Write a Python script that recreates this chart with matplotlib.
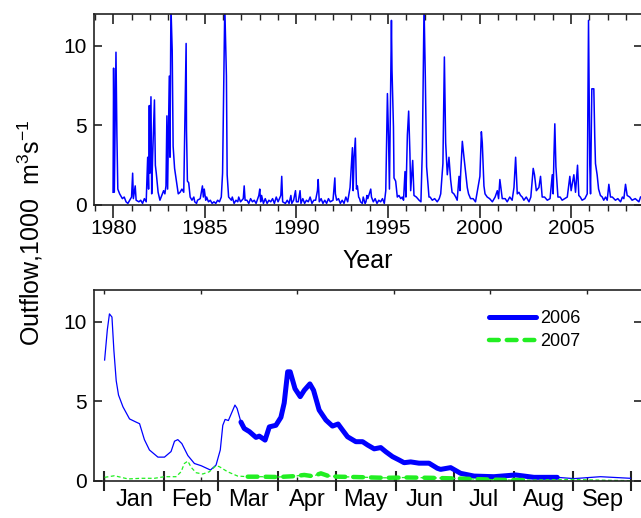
import matplotlib
matplotlib.use("Agg")
import matplotlib.pyplot as plt
import numpy as np

plt.rcParams['font.family'] = ['Liberation Sans', 'DejaVu Sans']
plt.rcParams['mathtext.fontset'] = 'custom'
plt.rcParams['mathtext.rm'] = 'Liberation Sans'
plt.rcParams['mathtext.it'] = 'Liberation Sans:italic'

# ---------------- data: top panel (long record) ----------------
years = [1979.99, 1980.02, 1980.06, 1980.15, 1980.20, 1980.25, 1980.35, 1980.5, 1980.7, 1980.9,
         1981.0, 1981.06, 1981.1, 1981.2, 1981.25, 1981.4, 1981.6, 1981.8, 1981.88, 1981.93,
         1981.97, 1982.0, 1982.06, 1982.1, 1982.15, 1982.25, 1982.3, 1982.35, 1982.45, 1982.55,
         1982.65, 1982.75, 1982.82, 1982.88, 1982.93, 1982.97, 1983.06, 1983.10, 1983.15, 1983.22,
         1983.27, 1983.35, 1983.45, 1983.55, 1983.65, 1983.75, 1983.85, 1983.89, 1983.98, 1984.0,
         1984.05, 1984.12, 1984.2, 1984.3, 1984.45, 1984.6, 1984.75, 1984.87, 1984.92, 1984.97,
         1985.05, 1985.2, 1985.4, 1985.6, 1985.8, 1985.9, 1985.97, 1986.09, 1986.18, 1986.22,
         1986.3, 1986.45, 1986.6, 1986.8, 1986.85, 1986.95, 1987.1, 1987.15, 1987.2, 1987.4,
         1987.6, 1987.8, 1987.95, 1988.0, 1988.05, 1988.1, 1988.2, 1988.4, 1988.6, 1988.8,
         1989.0, 1989.15, 1989.2, 1989.25, 1989.4, 1989.6, 1989.7, 1989.75, 1989.95, 1990.0,
         1990.1, 1990.2, 1990.25, 1990.45, 1990.65, 1990.85, 1991.05, 1991.15, 1991.19, 1991.25,
         1991.45, 1991.65, 1991.85, 1992.0, 1992.1, 1992.13, 1992.2, 1992.4, 1992.6, 1992.8,
         1992.93, 1993.06, 1993.1, 1993.15, 1993.22, 1993.28, 1993.33, 1993.4, 1993.5, 1993.6,
         1993.7, 1993.8, 1993.9, 1994.06, 1994.1, 1994.2, 1994.4, 1994.6, 1994.8, 1994.88,
         1994.97, 1995.03, 1995.08, 1995.19, 1995.22, 1995.3, 1995.33, 1995.42, 1995.51, 1995.7,
         1995.85, 1995.93, 1995.98, 1996.06, 1996.13, 1996.2, 1996.24, 1996.35, 1996.42, 1996.7,
         1996.8, 1996.88, 1996.97, 1997.04, 1997.11, 1997.24, 1997.42, 1997.69, 1997.88, 1998.0,
         1998.08, 1998.15, 1998.24, 1998.33, 1998.42, 1998.6, 1998.78, 1998.88, 1998.93, 1998.97,
         1999.06, 1999.15, 1999.33, 1999.51, 1999.78, 2000.02, 2000.1, 2000.15, 2000.24, 2000.42,
         2000.7, 2000.97, 2001.04, 2001.11, 2001.24, 2001.51, 2001.78, 2001.88, 2001.97, 2002.06,
         2002.24, 2002.42, 2002.7, 2002.8, 2002.93, 2003.0, 2003.1, 2003.24, 2003.33, 2003.42,
         2003.7, 2003.97, 2004.02, 2004.06, 2004.11, 2004.17, 2004.28, 2004.51, 2004.79, 2004.93,
         2005.0, 2005.15, 2005.24, 2005.35, 2005.42, 2005.6, 2005.88, 2005.95, 2006.02, 2006.06,
         2006.13, 2006.24, 2006.29, 2006.33, 2006.42, 2006.6, 2006.78, 2006.97, 2007.06, 2007.15,
         2007.42, 2007.7, 2007.88, 2007.97, 2008.06, 2008.33, 2008.7, 2008.79]
flows = [0.8, 8.6, 0.8, 9.6, 4.4, 1.0, 0.7, 0.4, 0.2, 0.3,
         0.5, 2.0, 0.4, 1.2, 0.3, 0.2, 0.1, 0.2, 3.0, 1.0,
         6.25, 2.0, 6.8, 0.7, 3.0, 6.6, 2.5, 2.0, 0.8, 0.3,
         0.6, 0.9, 0.7, 1.2, 5.6, 1.0, 8.1, 3.0, 12.5, 9.7,
         3.7, 2.3, 1.5, 0.7, 0.8, 1.0, 0.8, 3.6, 10.15, 4.7,
         1.5, 1.4, 0.5, 0.3, 0.2, 0.3, 0.4, 1.2, 0.5, 1.0,
         0.3, 0.2, 0.1, 0.1, 0.2, 0.5, 2.0, 12.5, 8.1, 1.9,
         0.5, 0.3, 0.1, 0.2, 0.5, 0.2, 0.4, 1.2, 0.3, 0.1,
         0.2, 0.1, 0.6, 1.0, 0.2, 0.6, 0.1, 0.1, 0.2, 0.1,
         0.2, 0.6, 1.8, 0.2, 0.1, 0.1, 0.6, 0.1, 0.9, 0.2,
         0.2, 0.9, 0.1, 0.1, 0.2, 0.1, 0.3, 0.9, 1.6, 0.2,
         0.1, 0.1, 0.2, 0.3, 1.7, 0.7, 0.3, 0.1, 0.1, 0.2,
         1.1, 3.6, 0.9, 3.0, 4.2, 1.0, 1.2, 0.5, 0.2, 0.1,
         0.3, 0.2, 0.4, 1.0, 0.5, 0.2, 0.1, 0.2, 0.1, 0.9,
         7.0, 4.3, 1.0, 11.6, 8.5, 4.9, 1.7, 1.5, 0.5, 0.4,
         0.3, 2.1, 0.5, 4.4, 5.9, 3.2, 0.9, 2.8, 0.6, 0.3,
         0.2, 3.6, 12.5, 8.0, 2.4, 0.5, 0.3, 0.2, 0.7, 2.6,
         9.3, 3.9, 1.9, 3.0, 1.6, 0.7, 0.3, 1.8, 0.9, 2.0,
         4.0, 3.0, 1.1, 0.4, 0.2, 1.8, 4.6, 3.9, 1.2, 0.5,
         0.2, 0.9, 0.4, 1.6, 0.4, 0.2, 0.3, 1.1, 3.0, 0.7,
         0.6, 0.3, 0.2, 0.5, 2.3, 1.9, 0.9, 1.1, 1.8, 0.5,
         0.3, 1.9, 0.7, 3.0, 5.1, 2.4, 0.5, 0.3, 0.5, 1.8,
         0.9, 1.9, 0.8, 2.5, 0.6, 0.3, 0.7, 11.6, 2.5, 0.7,
         7.3, 7.3, 4.3, 2.6, 1.9, 0.6, 0.3, 0.3, 1.3, 0.5,
         0.3, 0.2, 0.4, 1.3, 0.6, 0.3, 0.2, 0.5]

# small low-flow wiggles read between the events
years_low = [1980.6, 1980.8, 1981.5, 1981.7, 1984.4, 1984.55, 1985.1, 1985.3, 1985.5, 1985.7,
             1986.5, 1986.7, 1987.3, 1987.5, 1987.7, 1988.3, 1988.5, 1988.7, 1988.9, 1989.5,
             1989.85, 1990.35, 1990.55, 1990.75, 1990.95, 1991.35, 1991.55, 1991.75, 1992.3, 1992.5,
             1992.7, 1993.45, 1993.65, 1993.75, 1993.85, 1994.3, 1994.5, 1994.7, 1995.6, 1995.78,
             1996.55, 1997.3, 1997.55, 1997.8, 1998.5, 1998.7, 1999.4, 1999.65, 2000.3, 2000.55,
             2000.85, 2001.4, 2001.65, 2002.15, 2002.33, 2002.55, 2003.55, 2003.85, 2004.4, 2004.65,
             2005.5, 2005.75, 2006.5, 2006.7, 2006.88, 2007.25, 2007.55, 2007.8, 2008.2, 2008.5]
flows_low = [0.5, 0.1, 0.3, 0.4, 0.5, 0.1, 0.5, 0.3, 0.2, 0.3,
             0.5, 0.3, 0.3, 0.4, 0.3, 0.4, 0.3, 0.4, 0.5, 0.3,
             0.3, 0.4, 0.3, 0.5, 0.3, 0.4, 0.3, 0.4, 0.4, 0.3,
             0.5, 0.4, 0.5, 0.1, 0.6, 0.4, 0.3, 0.4, 0.6, 0.5,
             0.5, 0.5, 0.4, 0.4, 0.8, 0.5, 0.7, 0.4, 0.7, 0.4,
             0.5, 0.4, 0.5, 0.8, 0.5, 0.5, 0.5, 0.4, 0.5, 0.4,
             0.5, 0.4, 1.0, 0.5, 0.5, 0.5, 0.4, 0.5, 0.5, 0.4]

# ---------------- data: bottom panel (day of year, Jan 1 = 0) ----------------
days_2006 = [0.2, 1.6, 2.7, 4.0, 5.0, 6.2, 7.4, 9.7, 13.1, 16.5, 18.3, 20.8, 23.4, 27.8, 31.2,
             34.6, 36.4, 38.1, 40.2, 43.3, 46.7, 50.2, 55.0, 57.9, 60.1, 61.4, 62.6, 64.3, 67.7,
             68.8, 70.8, 72.5, 75.2, 78.6, 80.3, 83.3, 85.5, 88.9, 91.5, 93.2, 95.0, 96.3, 98.8,
             101.5, 103.6, 106.5, 108.4, 111.3, 114.8, 118.2, 121.1, 123.4, 126.0, 130.3, 133.8,
             136.4, 139.8, 143.2, 145.8, 149.3, 152.7, 155.3, 158.7, 163.0, 168.2, 172.5, 174.2,
             179.4, 184.6, 191.5, 201.8, 213.0, 222.5, 234.6, 243.2, 257.0, 272.5]
flow_2006 = [7.6, 9.5, 10.5, 10.3, 8.2, 6.3, 5.4, 4.66, 3.9, 3.7, 3.6, 2.6, 1.95, 1.5, 1.5,
             1.85, 2.5, 2.6, 2.35, 1.6, 1.1, 0.96, 0.69, 1.0, 1.95, 3.5, 3.87, 3.8, 4.77,
             4.56, 3.7, 3.3, 3.1, 2.74, 2.82, 2.57, 3.4, 3.5, 4.0, 4.9, 6.86, 6.86, 5.8,
             5.3, 5.7, 6.1, 5.7, 4.46, 3.83, 3.45, 3.58, 3.2, 2.78, 2.47, 2.47,
             2.26, 2.02, 2.1, 1.84, 1.53, 1.32, 1.15, 1.2, 1.12, 1.12, 0.8, 0.73,
             0.84, 0.48, 0.31, 0.27, 0.38, 0.23, 0.23, 0.15, 0.27, 0.17]

days_2007 = [0.2, 5.3, 12.3, 19.1, 26.0, 31.2, 37.2, 39.8, 41.5, 43.3, 45.0, 47.6, 51.0, 54.4,
             57.9, 59.6, 63.9, 69.1, 74.3, 81.2, 90.0, 98.0, 103.6, 108.0, 112.2, 116.0, 120.8,
             130.0, 145.0, 157.0, 169.1, 185.0, 197.0, 210.4, 219.0, 230.0, 241.5, 255.0, 272.5]
flow_2007 = [0.23, 0.33, 0.13, 0.17, 0.17, 0.27, 0.27, 0.58, 1.1, 1.25, 0.86, 0.52, 0.44, 0.58,
             0.96, 0.9, 0.58, 0.31, 0.27, 0.27, 0.25, 0.3, 0.38, 0.3, 0.48, 0.32, 0.27,
             0.25, 0.2, 0.22, 0.2, 0.15, 0.1, 0.06, 0.06, 0.08, 0.1, 0.06, 0.02]

month_labels = ['Jan', 'Feb', 'Mar', 'Apr', 'May', 'Jun', 'Jul', 'Aug', 'Sep']
month_starts = [0, 31, 59, 90, 120, 151, 181, 212, 243, 273]

series_labels = ['2006', '2007']

# ---------------- figure ----------------
W, H = 641, 518
fig = plt.figure(figsize=(W / 100, H / 100), dpi=100)
blue = '#0000ff'
green = '#22ee22'
spine_c = '#222222'

def fx(px):
    return px / W

def fy(py):
    return 1 - py / H

left_px, right_px = 94, 642
ax1 = fig.add_axes([fx(left_px), fy(205), fx(right_px - left_px), (205 - 14) / H])
ax2 = fig.add_axes([fx(left_px), fy(481), fx(right_px - left_px), (481 - 290) / H])

for ax in (ax1, ax2):
    for s in ax.spines.values():
        s.set_linewidth(1.2)
        s.set_color(spine_c)
    ax.set_ylim(0, 12)
    ax.set_yticks([0, 5, 10])
    ax.tick_params(axis='y', which='major', direction='in', length=6, width=1.2,
                   left=True, right=True, labelsize=15, pad=5, color=spine_c)

# top panel
yr = np.concatenate([years, years_low])
fl = np.concatenate([flows, flows_low])
order = np.argsort(yr)
ax1.plot(yr[order], fl[order], color=blue, lw=1.1)
ax1.set_xlim(1978.95, 2008.87)
ax1.set_xticks([1980, 1985, 1990, 1995, 2000, 2005])
ax1.set_xticks(np.arange(1979, 2009), minor=True)
ax1.tick_params(axis='x', which='major', direction='out', length=9, width=1.2,
                labelsize=15, pad=1, color=spine_c)
ax1.tick_params(axis='x', which='minor', direction='out', length=4, width=1.0, color=spine_c)
sec1 = ax1.secondary_xaxis('top')
sec1.set_xticks([1980, 1985, 1990, 1995, 2000, 2005])
sec1.set_xticks(np.arange(1979, 2009), minor=True)
sec1.tick_params(axis='x', which='major', direction='in', length=7, width=1.2,
                 labeltop=False, color=spine_c)
sec1.tick_params(axis='x', which='minor', direction='in', length=4, width=1.0, color=spine_c)
sec1.spines['top'].set_visible(False)
ax1.set_xlabel('Year', fontsize=18, labelpad=8)

# bottom panel
d06 = np.array(days_2006)
q06 = np.array(flow_2006)
d07 = np.array(days_2007)
q07 = np.array(flow_2007)

ax2.plot(d06, q06, color=blue, lw=0.9)
m06 = (d06 >= 70.8) & (d06 <= 234.6)
ax2.plot(d06[m06], q06[m06], color=blue, lw=3.6, solid_capstyle='round',
         solid_joinstyle='round', label=series_labels[0])
ax2.plot(d07, q07, color=green, lw=0.9, dashes=(3, 2))
m07 = (d07 >= 74.3) & (d07 <= 222)
ax2.plot(d07[m07], q07[m07], color=green, lw=3.2, dashes=(2.2, 1.8),
         dash_capstyle='round', label=series_labels[1])

ax2.set_xlim(-5.3, 278.5)
ax2.set_xticks(month_starts)
ax2.set_xticklabels([])
mids = [(month_starts[i] + month_starts[i + 1]) / 2 for i in range(len(month_labels))]
ax2.set_xticks(mids, minor=True)
ax2.set_xticklabels(month_labels, minor=True)
ax2.tick_params(axis='x', which='major', direction='inout', length=14, width=1.5,
                top=False, color=spine_c)
ax2.tick_params(axis='x', which='minor', length=0, labelsize=17, pad=6)
sec_t = ax2.secondary_xaxis('top')
sec_t.set_xticks([0, 50, 100, 150, 200, 250])
sec_t.tick_params(axis='x', direction='in', length=3, width=1.0, labeltop=False, color=spine_c)
sec_t.spines['top'].set_visible(False)
sec_b = ax2.secondary_xaxis('bottom')
sec_b.set_xticks([0, 50, 100, 150, 200, 250])
sec_b.tick_params(axis='x', direction='in', length=3, width=1.0, labelbottom=False, color=spine_c)
sec_b.spines['bottom'].set_visible(False)

leg = ax2.legend(loc='upper left',
                 bbox_to_anchor=((489 - left_px) / (right_px - left_px), 1 - 20 / 191),
                 frameon=False, fontsize=13, handlelength=2.6, handletextpad=0.25,
                 labelspacing=0.35, borderaxespad=0, borderpad=0)

fig.text(fx(30), fy(233), 'Outflow,1000  m$^{3}$s$^{-1}$', rotation=90,
         ha='center', va='center', fontsize=18)

fig.savefig('out.png', dpi=100)
